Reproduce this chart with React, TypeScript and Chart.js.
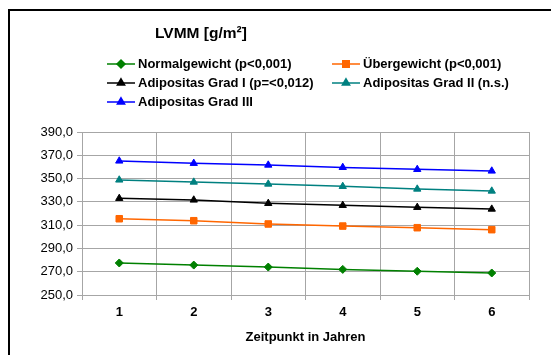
import React, { useEffect, useRef } from "react";
import { Chart, registerables } from "chart.js";
import { drawPoint } from "chart.js/helpers";

Chart.register(...registerables);

const chartTitle = "LVMM [g/m²]";
const xAxisTitle = "Zeitpunkt in Jahren";
const categories = ["1", "2", "3", "4", "5", "6"];

const seriesLabels = [
  "Normalgewicht (p<0,001)",
  "Übergewicht (p<0,001)",
  "Adipositas Grad I (p=<0,012)",
  "Adipositas Grad II (n.s.)",
  "Adipositas Grad III",
];
const normalgewicht = [277.5, 275.7, 274.0, 272.0, 270.4, 268.9];
const uebergewicht = [315.5, 313.8, 311.0, 309.2, 307.8, 306.1];
const adipositas1 = [333.0, 331.6, 328.7, 327.0, 325.3, 323.8];
const adipositas2 = [348.8, 347.0, 345.3, 343.3, 341.0, 339.3];
const adipositas3 = [365.1, 363.1, 361.6, 359.6, 357.9, 356.5];

const seriesColors = ["#008000", "#FF6600", "#000000", "#008080", "#0000FF"];
const seriesPointStyles = ["rectRot", "rect", "triangle", "triangle", "triangle"];
const seriesPointRadius = [4, 4.6, 4.2, 4.2, 4.2];

const yMin = 250;
const yMax = 390;
const yStep = 20;

const FONT = "'Liberation Sans', Arial, sans-serif";

const framePlugin = {
  id: "frame",
  beforeDraw(chart: any) {
    const ctx = chart.ctx;
    ctx.save();
    ctx.fillStyle = "#fff";
    ctx.fillRect(0, 0, chart.width, chart.height);
    ctx.strokeStyle = "#000";
    ctx.lineWidth = 2;
    ctx.beginPath();
    ctx.moveTo(9, chart.height + 5);
    ctx.lineTo(9, 10);
    ctx.lineTo(chart.width + 5, 10);
    ctx.stroke();
    ctx.restore();
  },
};

const headerPlugin = {
  id: "header",
  afterDraw(chart: any) {
    const ctx = chart.ctx;
    ctx.save();
    ctx.fillStyle = "#000";
    ctx.font = `bold 15.5px ${FONT}`;
    ctx.textAlign = "left";
    ctx.textBaseline = "alphabetic";
    ctx.fillText(chartTitle, 155, 38);

    const colX = [107, 332];
    const rowY = [64, 83, 102];
    chart.data.datasets.forEach((ds: any, i: number) => {
      const x = colX[i % 2];
      const y = rowY[Math.floor(i / 2)];
      ctx.strokeStyle = ds.borderColor;
      ctx.lineWidth = 1.5;
      ctx.beginPath();
      ctx.moveTo(x, y);
      ctx.lineTo(x + 28, y);
      ctx.stroke();
      ctx.fillStyle = ds.borderColor;
      drawPoint(
        ctx,
        { pointStyle: ds.pointStyle, radius: ds.pointRadius, rotation: 0, borderWidth: 1 },
        x + 14,
        y
      );
      ctx.fillStyle = "#000";
      ctx.font = `bold 13px ${FONT}`;
      ctx.textBaseline = "middle";
      ctx.fillText(ds.label, x + 31, y + 0.5);
    });
    ctx.restore();
  },
};

export default function App() {
  const canvasRef = useRef<HTMLCanvasElement | null>(null);

  useEffect(() => {
    const seriesData = [normalgewicht, uebergewicht, adipositas1, adipositas2, adipositas3];
    const datasets = seriesData.map((d, i) => ({
      label: seriesLabels[i],
      data: d,
      borderColor: seriesColors[i],
      backgroundColor: seriesColors[i],
      pointBackgroundColor: seriesColors[i],
      pointBorderColor: seriesColors[i],
      pointStyle: seriesPointStyles[i],
      pointRadius: seriesPointRadius[i],
      pointBorderWidth: 1,
      borderWidth: 1.5,
      tension: 0,
    }));

    const gridColor = "#a6a6a6";
    const chart = new Chart(canvasRef.current as HTMLCanvasElement, {
      type: "line",
      data: { labels: categories, datasets },
      options: {
        animation: false,
        responsive: false,
        events: [],
        layout: { padding: { left: 0, right: 22, top: 132, bottom: 0 } },
        plugins: {
          legend: { display: false },
          title: { display: false },
          tooltip: { enabled: false },
        },
        scales: {
          x: {
            type: "category",
            offset: true,
            grid: { offset: true, color: gridColor, tickColor: gridColor, tickLength: 5, lineWidth: 1 },
            border: { color: gridColor, width: 1 },
            ticks: {
              color: "#000",
              padding: 5,
              font: { family: FONT, size: 13, weight: "bold" },
              maxRotation: 0,
            },
            title: {
              display: true,
              text: xAxisTitle,
              color: "#000",
              font: { family: FONT, size: 13, weight: "bold" },
              padding: { top: 4, bottom: 10 },
            },
            afterFit: (s: any) => {
              s.height = 60;
            },
          },
          y: {
            min: yMin,
            max: yMax,
            grid: { color: gridColor, tickColor: gridColor, tickLength: 5, lineWidth: 1 },
            border: { color: gridColor, width: 1 },
            ticks: {
              stepSize: yStep,
              color: "#000",
              padding: 4,
              font: { family: FONT, size: 13 },
              callback: (v: any) => Number(v).toFixed(1).replace(".", ","),
            },
            afterFit: (s: any) => {
              s.width = 82;
            },
          },
        },
      },
      plugins: [framePlugin, headerPlugin],
    });
    return () => chart.destroy();
  }, []);

  return (
    <canvas
      ref={canvasRef}
      width={551}
      height={355}
      style={{ position: "fixed", left: 0, top: 0, width: 551, height: 355 }}
    />
  );
}
